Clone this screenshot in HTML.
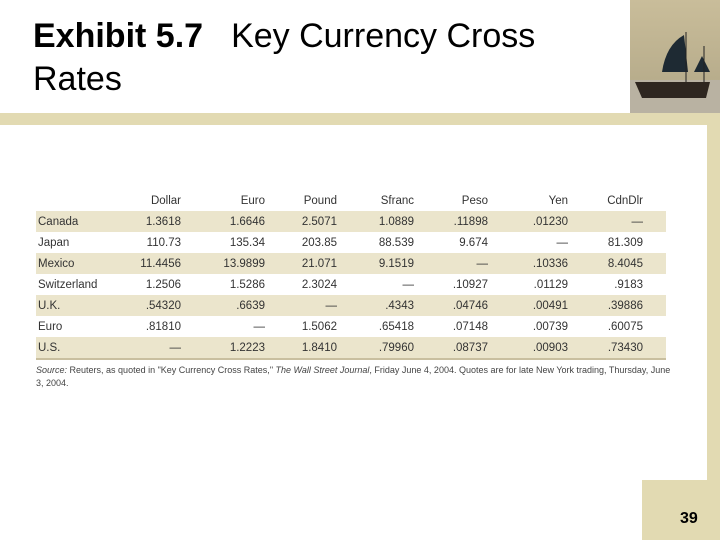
<!DOCTYPE html>
<html><head><meta charset="utf-8"><style>
body{margin:0;width:720px;height:540px;position:relative;background:#fff;font-family:"Liberation Sans",sans-serif;overflow:hidden}
.t{position:absolute;left:33px;top:15px;font-size:34px;line-height:43px;color:#000}
.band{position:absolute;background:#e2dab2}
.pic{position:absolute;left:630px;top:0;width:90px;height:113px;background:linear-gradient(#c9bd9a,#b8ad8c 70%,#cfc6b0)}
table{position:absolute;left:36px;top:190px;width:630px;border-collapse:collapse;font-size:11.5px;color:#333}
td,th{height:21px;padding:0;text-align:right;font-weight:normal}
td:first-child{text-align:left;padding-left:2px}
tr.s td{background:#ebe5cc}
tr.last td{border-bottom:2px solid #c9bf9f}
.src{position:absolute;left:36px;top:364px;font-size:9px;color:#444;line-height:13px;width:640px}
</style></head><body>
<div class="t"><b>Exhibit 5.7</b><span style="display:inline-block;width:28px"></span>Key Currency Cross<br>Rates</div>
<div class="pic">
<svg width="90" height="113"><rect x="0" y="80" width="90" height="33" fill="#b9b2a2"/><path d="M5 82 L80 82 L76 98 L12 98Z" fill="#2e2620"/><path d="M32 72 Q36 45 54 35 L58 72Z" fill="#1e2a33"/><path d="M64 72 L72 56 L80 72Z" fill="#1e2a33"/><line x1="56" y1="32" x2="56" y2="82" stroke="#222"/><line x1="74" y1="46" x2="74" y2="82" stroke="#222"/></svg></div>
<div class="band" style="left:0;top:113px;width:720px;height:12px"></div>
<div class="band" style="left:707px;top:125px;width:13px;height:360px"></div>
<div class="band" style="left:642px;top:480px;width:78px;height:60px"></div>
<div style="position:absolute;left:680px;top:510px;font-size:16px;font-weight:bold">39</div>
<table>
<colgroup><col style="width:90px"><col style="width:55px"><col style="width:84px"><col style="width:72px"><col style="width:77px"><col style="width:74px"><col style="width:80px"><col style="width:75px"><col style="width:23px"></colgroup>
<tr><th></th><th>Dollar</th><th>Euro</th><th>Pound</th><th>Sfranc</th><th>Peso</th><th>Yen</th><th>CdnDlr</th><th></th></tr>
<tr class="s"><td>Canada</td><td>1.3618</td><td>1.6646</td><td>2.5071</td><td>1.0889</td><td>.11898</td><td>.01230</td><td>—</td><td></td></tr>
<tr><td>Japan</td><td>110.73</td><td>135.34</td><td>203.85</td><td>88.539</td><td>9.674</td><td>—</td><td>81.309</td><td></td></tr>
<tr class="s"><td>Mexico</td><td>11.4456</td><td>13.9899</td><td>21.071</td><td>9.1519</td><td>—</td><td>.10336</td><td>8.4045</td><td></td></tr>
<tr><td>Switzerland</td><td>1.2506</td><td>1.5286</td><td>2.3024</td><td>—</td><td>.10927</td><td>.01129</td><td>.9183</td><td></td></tr>
<tr class="s"><td>U.K.</td><td>.54320</td><td>.6639</td><td>—</td><td>.4343</td><td>.04746</td><td>.00491</td><td>.39886</td><td></td></tr>
<tr><td>Euro</td><td>.81810</td><td>—</td><td>1.5062</td><td>.65418</td><td>.07148</td><td>.00739</td><td>.60075</td><td></td></tr>
<tr class="s last"><td>U.S.</td><td>—</td><td>1.2223</td><td>1.8410</td><td>.79960</td><td>.08737</td><td>.00903</td><td>.73430</td><td></td></tr>
</table>
<div class="src"><i>Source:</i> Reuters, as quoted in "Key Currency Cross Rates," <i>The Wall Street Journal</i>, Friday June 4, 2004. Quotes are for late New York trading, Thursday, June 3, 2004.</div>
</body></html>
